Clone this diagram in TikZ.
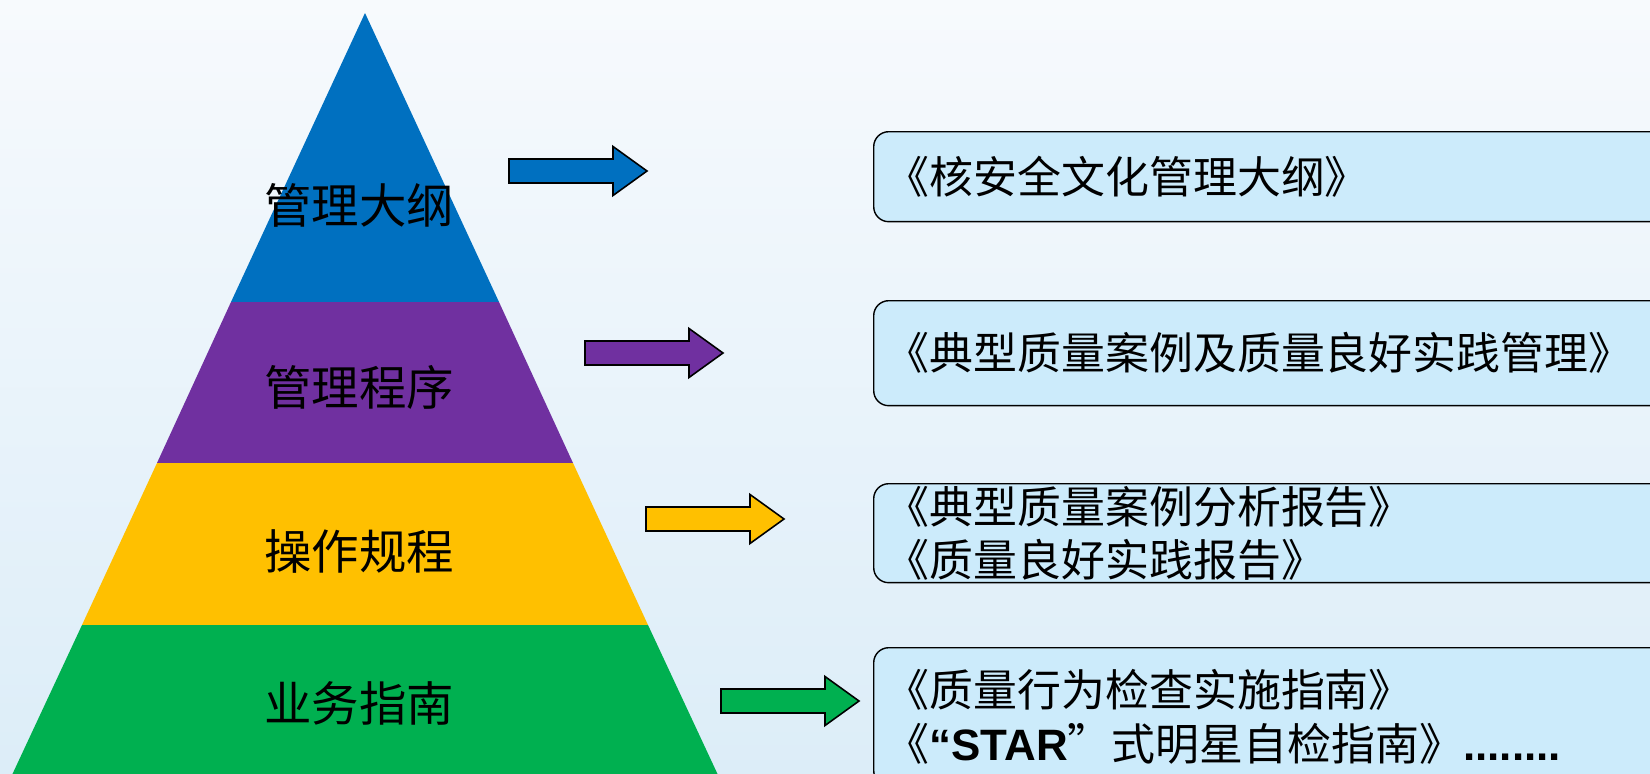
\documentclass[tikz,border=0pt]{standalone}
\usepackage{fontspec}
\setmainfont{Noto Sans CJK SC}
\newfontfamily\arialfont{Liberation Sans}
\usepackage{tikz}
\usetikzlibrary{positioning}

\definecolor{lvlblue}{HTML}{0070C0}
\definecolor{lvlpurple}{HTML}{7030A0}
\definecolor{lvlyellow}{HTML}{FFC000}
\definecolor{lvlgreen}{HTML}{00B050}
\definecolor{boxfill}{HTML}{CCEBFB}
\definecolor{bgtop}{HTML}{F7FAFD}
\definecolor{bgbottom}{HTML}{DCEDF8}

\tikzset{
    blockarrow/.pic={
        \draw[pic actions] (0,-12) -- (104,-12) -- (104,-24.5) -- (138,0) -- (104,24.5) -- (104,12) -- (0,12) -- cycle;
    }
}

\begin{document}
\begin{tikzpicture}[x=0.02cm,y=-0.02cm,
    level/.style={inner sep=0pt,font=\fontsize{27pt}{32pt}\selectfont},
    docbox/.style={rectangle,draw=black,line width=0.8pt,fill=boxfill,rounded corners=0.3cm,anchor=north west,minimum width=15.84cm,text width=15.36cm,inner xsep=0.24cm,inner ysep=0pt,align=left,font=\fontsize{25pt}{30.5pt}\selectfont},
    arrowline/.style={draw=black,line width=0.9pt}]
    \useasboundingbox (0,0) rectangle (1650,774);
    \clip (0,0) rectangle (1650,774);

    % Sfondo
    \shade[top color=bgtop,bottom color=bgbottom] (0,0) rectangle (1650,774);

    % Piramide
    \fill[lvlblue] (365,13) -- (499,302) -- (231,302) -- cycle;
    \fill[lvlpurple] (231,302) -- (499,302) -- (573,463) -- (157,463) -- cycle;
    \fill[lvlyellow] (157,463) -- (573,463) -- (648,625) -- (82,625) -- cycle;
    \fill[lvlgreen] (82,625) -- (648,625) -- (725,790) -- (5,790) -- cycle;

    \node[level] (l1) at (359,205) {管理大纲};
    \node[level] (l2) at (359,387) {管理程序};
    \node[level] (l3) at (359,551) {操作规程};
    \node[level] (l4) at (359,703) {业务指南};

    % Frecce
    \pic[arrowline,fill=lvlblue] (a1) at (509,171) {blockarrow};
    \pic[arrowline,fill=lvlpurple] (a2) at (585,353) {blockarrow};
    \pic[arrowline,fill=lvlyellow] (a3) at (646,519) {blockarrow};
    \pic[arrowline,fill=lvlgreen] (a4) at (721,701) {blockarrow};

    % Documenti
    \node[docbox,minimum height=1.8cm] (d1) at (873,131) {《核安全文化管理大纲》};
    \node[docbox,minimum height=2.1cm] (d2) at (873,300) {《典型质量案例及质量良好实践管理》};
    \node[docbox,minimum height=1.98cm] (d3) at (873,483) {《典型质量案例分析报告》\\《质量良好实践报告》};
    \node[docbox,minimum height=2.76cm] (d4) at (873,647) {《质量行为检查实施指南》\\《{\arialfont\bfseries “STAR}”式明星自检指南》{\arialfont\bfseries ........}};
\end{tikzpicture}
\end{document}
